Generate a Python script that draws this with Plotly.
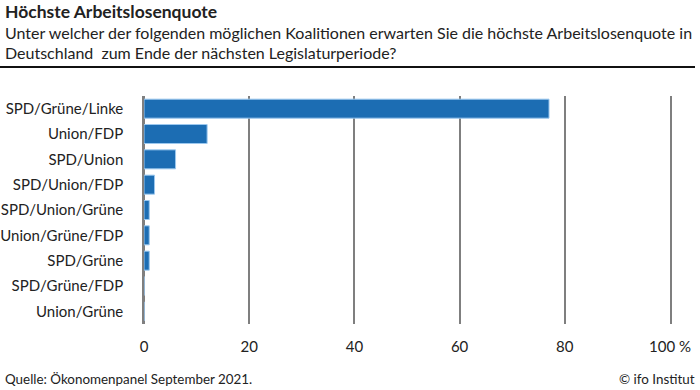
import plotly.graph_objects as go

categories = ["SPD/Grüne/Linke", "Union/FDP", "SPD/Union", "SPD/Union/FDP",
              "SPD/Union/Grüne", "Union/Grüne/FDP", "SPD/Grüne", "SPD/Grüne/FDP",
              "Union/Grüne"]
values = [77, 12, 6, 2, 1, 1, 1, 0, 0]
tick_vals = [0, 20, 40, 60, 80, 100]
tick_text = ["0", "20", "40", "60", "80", "100 %"]

W, H = 700, 390
FONT = "Lato"
PL, PR = 144, 30
PW = W - PL - PR

fig = go.Figure(go.Bar(
    x=values, y=categories, orientation="h",
    marker=dict(color="#1c6db3", line=dict(color="#9cc8ee", width=1)),
    width=0.75,
))

fig.update_layout(
    width=W, height=H,
    margin=dict(l=PL, r=PR, t=96, b=66),
    paper_bgcolor="white", plot_bgcolor="white",
    font=dict(family=FONT, size=15, color="#222222"),
    showlegend=False,
    bargap=0.25,
    xaxis=dict(range=[0, 100], tickvals=tick_vals, ticktext=tick_text,
               showgrid=True, gridcolor="#7f7f7f", gridwidth=1.5,
               zeroline=True, zerolinecolor="#7f7f7f", zerolinewidth=1.5,
               showline=False, ticks="", ticklabelstandoff=12, automargin=False,
               tickfont=dict(size=15, color="#222222"), fixedrange=True),
    yaxis=dict(categoryorder="array", categoryarray=categories,
               autorange="reversed", ticks="", showgrid=False, zeroline=False,
               showline=True, mirror=True, linecolor="#7f7f7f", linewidth=1.5,
               ticklabelstandoff=16, automargin=False,
               tickfont=dict(size=15, color="#222222"),
               fixedrange=True),
    shapes=[dict(type="line", xref="paper", yref="paper",
                 x0=-PL/PW, x1=(695-PL)/PW, y0=1 + (96-67)/228, y1=1 + (96-67)/228,
                 line=dict(color="#111111", width=2))],
)

def ann(text, x, y, size, anchor="left", bold=False, color="#222222"):
    fig.add_annotation(
        text=f"<b>{text}</b>" if bold else text,
        xref="paper", yref="paper",
        x=(x - PL) / PW, y=1 - (y - 96) / 228,
        xanchor=anchor, yanchor="middle", showarrow=False,
        font=dict(family=FONT, size=size, color=color),
    )

ann("Höchste Arbeitslosenquote", 3, 12, 17.5, bold=True)
ann("Unter welcher der folgenden möglichen Koalitionen erwarten Sie die höchste Arbeitslosenquote in", 3, 32, 16)
ann("Deutschland  zum Ende der nächsten Legislaturperiode?", 3, 52, 16)
ann("Quelle: Ökonomenpanel September 2021.", 3, 379, 13.4)
ann("© ifo Institut", 697, 379, 13.4, anchor="right")

fig.write_html("out.html", config={"displayModeBar": False},
               post_script="document.body.style.margin='0';document.body.style.overflow='hidden';")
